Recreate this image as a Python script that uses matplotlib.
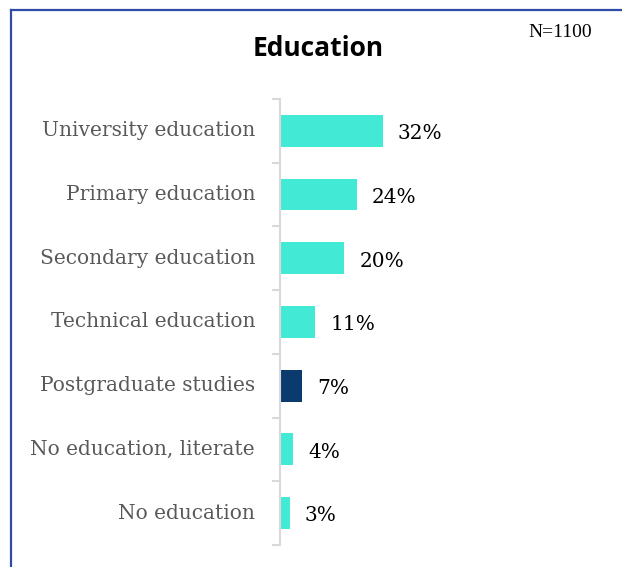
import matplotlib.pyplot as plt
from matplotlib.lines import Line2D

categories = ['University education', 'Primary education', 'Secondary education',
              'Technical education', 'Postgraduate studies', 'No education, literate',
              'No education']
values = [32, 24, 20, 11, 7, 4, 3]
highlight = 'Postgraduate studies'

TEAL = '#42EAD6'
NAVY = '#0B3B6E'
SERIF = ['DejaVu Serif']

fig = plt.figure(figsize=(6.22, 5.67), dpi=100)
ax = fig.add_axes([0.4502, 0.0388, 0.515, 0.7866])

ypos = list(range(len(categories)))
colors = [NAVY if c == highlight else TEAL for c in categories]
ax.barh(ypos, values, height=0.5, color=colors)

for y, v in zip(ypos, values):
    ax.annotate(f'{v}%', xy=(v, y), xytext=(11, -2), textcoords='offset points',
                va='center', ha='left', fontsize=14.5, family=SERIF, color='black')

ax.set_ylim(len(categories) - 0.5, -0.5)
ax.set_xlim(0, 100)
ax.set_yticks(ypos)
ax.set_yticklabels(categories, family=SERIF, fontsize=14.5, color='#595959',
                   va='center')
ax.tick_params(axis='y', which='major', length=0, pad=18)
ax.set_yticks([i - 0.5 for i in range(len(categories) + 1)], minor=True)
ax.tick_params(axis='y', which='minor', length=6, width=1.5, color='#d9d9d9')
ax.set_xticks([])
for side in ['top', 'right', 'bottom']:
    ax.spines[side].set_visible(False)
ax.spines['left'].set_color('#d9d9d9')
ax.spines['left'].set_linewidth(1.5)

fig.text(0.511, 0.915, 'Education', ha='center', va='center', fontsize=19,
         fontweight='bold', family='Open Sans', color='black')
fig.text(0.9, 0.943, 'N=1100', ha='center', va='center', fontsize=14,
         family='Liberation Serif', color='black')

# frame lines along the top and left edges
fig.add_artist(Line2D([0.0177, 1.0], [0.9815, 0.9815], color='#2E4BA8', lw=1.6,
                      transform=fig.transFigure))
fig.add_artist(Line2D([0.0177, 0.0177], [0.0, 0.9815], color='#2E4BA8', lw=1.6,
                      transform=fig.transFigure))

fig.savefig('out.png', dpi=100)
